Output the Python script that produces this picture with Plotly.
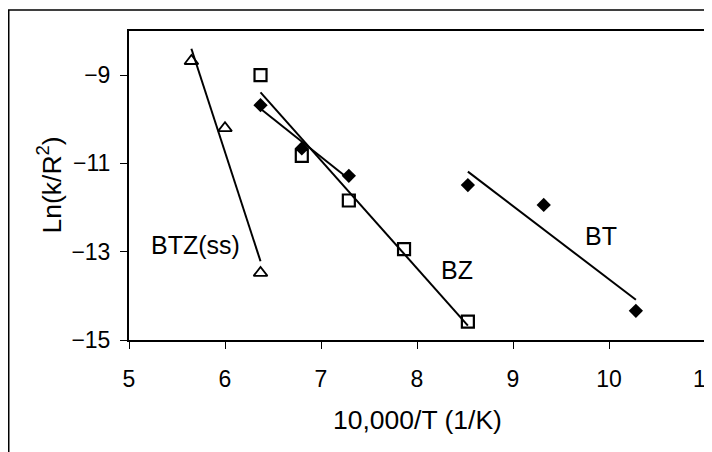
import numpy as np
import plotly.graph_objects as go

# ---- data ----
btzss_x = [5.65, 6.00, 6.37]
btzss_y = [-8.68, -10.20, -13.48]

bz_x = [6.37, 6.80, 7.29, 7.865, 8.53]
bz_y = [-9.00, -10.83, -11.84, -12.94, -14.585]

btz_x = [6.37, 6.80, 7.29]
btz_y = [-9.68, -10.66, -11.28]

bt_x = [8.53, 9.32, 10.28]
bt_y = [-11.49, -11.94, -14.34]

x_ticks = [5, 6, 7, 8, 9, 10, 11]
y_ticks = [-15, -13, -11, -9]

labels = ["BTZ(ss)", "BZ", "BT"]
label_x = [5.695, 8.415, 9.92]
label_y = [-12.85, -13.41, -12.64]

W, H = 712, 452
L, R, T, B = 121, 15, 23, 120
pw, ph = W - L - R, H - T - B
FONT = "Liberation Sans, Arial, sans-serif"
TICK_SIZE = 23
TITLE_SIZE = 26.5

fig = go.Figure()


def trend(xs, ys):
    m, c = np.polyfit(xs, ys, 1)
    xx = np.array([min(xs), max(xs)])
    return xx, m * xx + c


for xs, ys in [(btzss_x, btzss_y), (bz_x, bz_y), (btz_x, btz_y), (bt_x, bt_y)]:
    tx, ty = trend(xs, ys)
    fig.add_trace(go.Scatter(x=tx, y=ty, mode="lines",
                             line=dict(color="black", width=2),
                             showlegend=False, hoverinfo="skip"))

fig.add_trace(go.Scatter(x=btzss_x, y=btzss_y, mode="markers", name="BTZ(ss)",
                         marker=dict(symbol="triangle-up-open", size=12,
                                     color="black", line=dict(width=1.8, color="black"))))
fig.add_trace(go.Scatter(x=bz_x, y=bz_y, mode="markers", name="BZ",
                         marker=dict(symbol="square-open", size=12,
                                     color="black", line=dict(width=2.2, color="black"))))
fig.add_trace(go.Scatter(x=btz_x, y=btz_y, mode="markers", name="BTZ",
                         marker=dict(symbol="diamond", size=11, color="black",
                                     line=dict(width=0))))
fig.add_trace(go.Scatter(x=bt_x, y=bt_y, mode="markers", name="BT",
                         marker=dict(symbol="diamond", size=11, color="black",
                                     line=dict(width=0))))

for t, lx, ly in zip(labels, label_x, label_y):
    fig.add_annotation(x=lx, y=ly, text=t, showarrow=False,
                       font=dict(size=25, color="black", family=FONT))

# axis titles placed as annotations
fig.add_annotation(xref="paper", yref="paper", x=0.5, y=(332 - 412) / ph,
                   text="10,000/T (1/K)", showarrow=False,
                   xanchor="center", yanchor="middle",
                   font=dict(size=TITLE_SIZE, color="black", family=FONT))
fig.add_annotation(xref="paper", yref="paper", x=(41 - L) / pw, y=0.5,
                   text="Ln(k/R<sup>2</sup>)", showarrow=False, textangle=-90,
                   xanchor="center", yanchor="middle",
                   font=dict(size=TITLE_SIZE, color="black", family=FONT))

# chart-area border
fig.add_shape(type="rect", xref="paper", yref="paper",
              x0=(0.75 - L) / pw, x1=(W + 10 - L) / pw,
              y0=(H - B - (H + 10)) / ph, y1=(H - B - 2) / ph,
              line=dict(color="black", width=1.5), layer="below")

axis_common = dict(showline=True, linecolor="black", linewidth=2, mirror=True,
                   ticks="outside", ticklen=7, tickwidth=1.2, tickcolor="black",
                   showgrid=False, zeroline=False, automargin=False,
                   tickfont=dict(size=TICK_SIZE, color="black", family=FONT))

fig.update_xaxes(range=[5, 11], tickvals=x_ticks, ticklabeloverflow="allow",
                 ticklabelstandoff=10, **axis_common)
fig.update_yaxes(range=[-15, -8], tickvals=y_ticks, ticklabelstandoff=5,
                 **axis_common)

fig.update_layout(width=W, height=H, margin=dict(l=L, r=R, t=T, b=B, autoexpand=False),
                  paper_bgcolor="white", plot_bgcolor="white",
                  showlegend=False, font=dict(family=FONT, color="black"))

fig.write_html("out.html")
